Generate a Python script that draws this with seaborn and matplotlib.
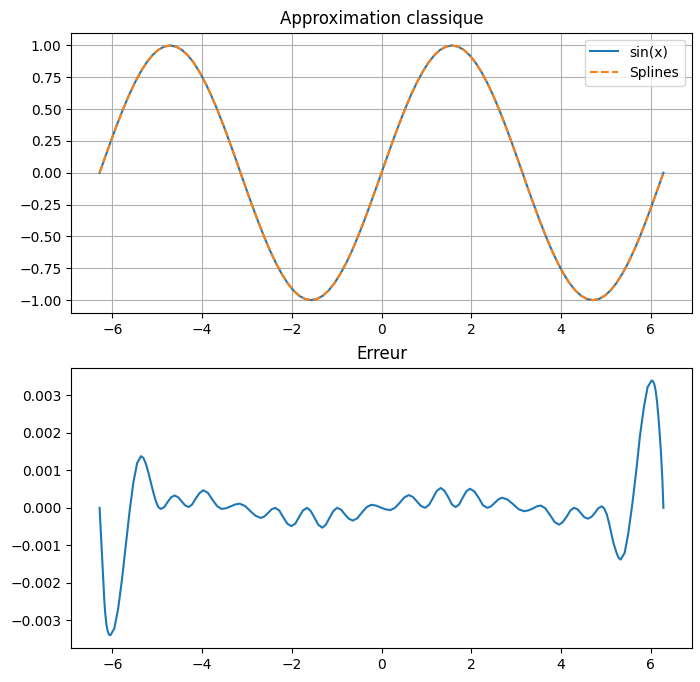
import numpy as np
import matplotlib
matplotlib.use("Agg")
import matplotlib.pyplot as plt
import seaborn as sns

# courbe du haut : sin(x) et splines (valeurs lues sur le graphe, pas de pi/24)
sin_x = [-6.283, -6.152, -6.021, -5.890, -5.760, -5.629, -5.498, -5.367, -5.236, -5.105,
         -4.974, -4.843, -4.712, -4.581, -4.451, -4.320, -4.189, -4.058, -3.927, -3.796,
         -3.665, -3.534, -3.403, -3.272, -3.142, -3.011, -2.880, -2.749, -2.618, -2.487,
         -2.356, -2.225, -2.094, -1.963, -1.833, -1.702, -1.571, -1.440, -1.309, -1.178,
         -1.047, -0.916, -0.785, -0.654, -0.524, -0.393, -0.262, -0.131, 0.000,
         0.131, 0.262, 0.393, 0.524, 0.654, 0.785, 0.916, 1.047, 1.178, 1.309,
         1.440, 1.571, 1.702, 1.833, 1.963, 2.094, 2.225, 2.356, 2.487, 2.618,
         2.749, 2.880, 3.011, 3.142, 3.272, 3.403, 3.534, 3.665, 3.796, 3.927,
         4.058, 4.189, 4.320, 4.451, 4.581, 4.712, 4.843, 4.974, 5.105, 5.236,
         5.367, 5.498, 5.629, 5.760, 5.890, 6.021, 6.152, 6.283]
sin_y = [0.000, 0.131, 0.259, 0.383, 0.500, 0.609, 0.707, 0.793, 0.866, 0.924,
         0.966, 0.991, 1.000, 0.991, 0.966, 0.924, 0.866, 0.793, 0.707, 0.609,
         0.500, 0.383, 0.259, 0.131, 0.000, -0.131, -0.259, -0.383, -0.500, -0.609,
         -0.707, -0.793, -0.866, -0.924, -0.966, -0.991, -1.000, -0.991, -0.966, -0.924,
         -0.866, -0.793, -0.707, -0.609, -0.500, -0.383, -0.259, -0.131, 0.000,
         0.131, 0.259, 0.383, 0.500, 0.609, 0.707, 0.793, 0.866, 0.924, 0.966,
         0.991, 1.000, 0.991, 0.966, 0.924, 0.866, 0.793, 0.707, 0.609, 0.500,
         0.383, 0.259, 0.131, 0.000, -0.131, -0.259, -0.383, -0.500, -0.609, -0.707,
         -0.793, -0.866, -0.924, -0.966, -0.991, -1.000, -0.991, -0.966, -0.924, -0.866,
         -0.793, -0.707, -0.609, -0.500, -0.383, -0.259, -0.131, 0.000]
# les splines se superposent exactement a sin(x) a cette echelle
spline_y = list(sin_y)

# erreur (en 1e-3)
err_x = [-6.283, -6.26, -6.24, -6.22, -6.20, -6.18, -6.16, -6.13, -6.10, -6.07,
         -6.04, -5.955, -5.87, -5.785, -5.70, -5.615, -5.53, -5.445, -5.36, -5.305,
         -5.25, -5.195, -5.14, -5.085, -5.03, -4.975, -4.92, -4.84, -4.77, -4.69,
         -4.61, -4.53, -4.46, -4.38, -4.30, -4.22, -4.14, -4.05, -3.97, -3.87,
         -3.77, -3.66, -3.56, -3.46, -3.36, -3.26, -3.16, -3.04, -2.93, -2.81,
         -2.69, -2.61, -2.53, -2.45, -2.37, -2.28, -2.19, -2.10, -2.01, -1.92,
         -1.84, -1.75, -1.66, -1.58, -1.49, -1.41, -1.32, -1.24, -1.16, -1.07,
         -0.99, -0.90, -0.82, -0.73, -0.64, -0.54, -0.44, -0.33, -0.23, -0.12,
         -0.02, 0.09, 0.20, 0.30, 0.41, 0.51, 0.61, 0.70, 0.79, 0.88,
         0.97, 1.06, 1.15, 1.23, 1.32, 1.40, 1.49, 1.57, 1.65, 1.73,
         1.81, 1.89, 1.97, 2.07, 2.17, 2.26, 2.36, 2.44, 2.53, 2.61,
         2.69, 2.81, 2.94, 3.06, 3.18, 3.27, 3.37, 3.46, 3.55, 3.65,
         3.76, 3.86, 3.96, 4.04, 4.13, 4.21, 4.29, 4.37, 4.45, 4.52,
         4.60, 4.68, 4.76, 4.83, 4.91, 4.96, 5.02, 5.07, 5.12, 5.17,
         5.23, 5.28, 5.33, 5.42, 5.50, 5.59, 5.68, 5.76, 5.85, 5.93,
         6.02, 6.05, 6.08, 6.11, 6.14, 6.17, 6.20, 6.23, 6.26, 6.283]
err_y = [0.00, -0.55, -1.05, -1.55, -2.02, -2.42, -2.78, -3.12, -3.31, -3.39,
         -3.40, -3.22, -2.70, -1.92, -1.01, -0.10, 0.68, 1.20, 1.38, 1.33,
         1.17, 0.94, 0.68, 0.41, 0.18, 0.02, -0.03, 0.02, 0.15, 0.28,
         0.33, 0.28, 0.18, 0.07, 0.02, 0.09, 0.25, 0.40, 0.47, 0.40,
         0.22, 0.04, -0.03, -0.01, 0.04, 0.09, 0.11, 0.05, -0.08, -0.21,
         -0.27, -0.23, -0.14, -0.04, 0.00, -0.07, -0.25, -0.42, -0.49, -0.42,
         -0.25, -0.07, 0.00, -0.08, -0.27, -0.45, -0.53, -0.45, -0.27, -0.08,
         0.00, -0.05, -0.17, -0.29, -0.34, -0.28, -0.13, 0.02, 0.08, 0.06,
         0.01, -0.04, -0.06, 0.00, 0.14, 0.28, 0.34, 0.29, 0.17, 0.05,
         0.00, 0.08, 0.27, 0.45, 0.53, 0.46, 0.28, 0.09, 0.02, 0.09,
         0.27, 0.44, 0.51, 0.44, 0.26, 0.07, 0.00, 0.04, 0.14, 0.23,
         0.27, 0.22, 0.09, -0.04, -0.09, -0.07, -0.02, 0.04, 0.06, -0.01,
         -0.20, -0.38, -0.45, -0.38, -0.23, -0.07, 0.00, -0.04, -0.15, -0.25,
         -0.29, -0.24, -0.13, -0.01, 0.04, -0.01, -0.17, -0.40, -0.67, -0.94,
         -1.17, -1.33, -1.38, -1.20, -0.68, 0.10, 1.01, 1.92, 2.70, 3.22,
         3.40, 3.38, 3.30, 3.13, 2.85, 2.45, 1.98, 1.45, 0.75, 0.00]

fig, (ax1, ax2) = plt.subplots(2, 1, figsize=(7, 6.82))
fig.subplots_adjust(left=0.102, right=0.988, top=0.952, bottom=0.05, hspace=0.196)

sns.lineplot(x=sin_x, y=sin_y, ax=ax1, label='sin(x)', color='C0')
sns.lineplot(x=sin_x, y=spline_y, ax=ax1, label='Splines', color='C1', linestyle='--')
ax1.set_title('Approximation classique')
ax1.grid(True)
ax1.legend(loc='upper right')

sns.lineplot(x=err_x, y=np.array(err_y) * 1e-3, ax=ax2, color='C0')
ax2.set_title('Erreur')

plt.savefig('out.png', dpi=100)
